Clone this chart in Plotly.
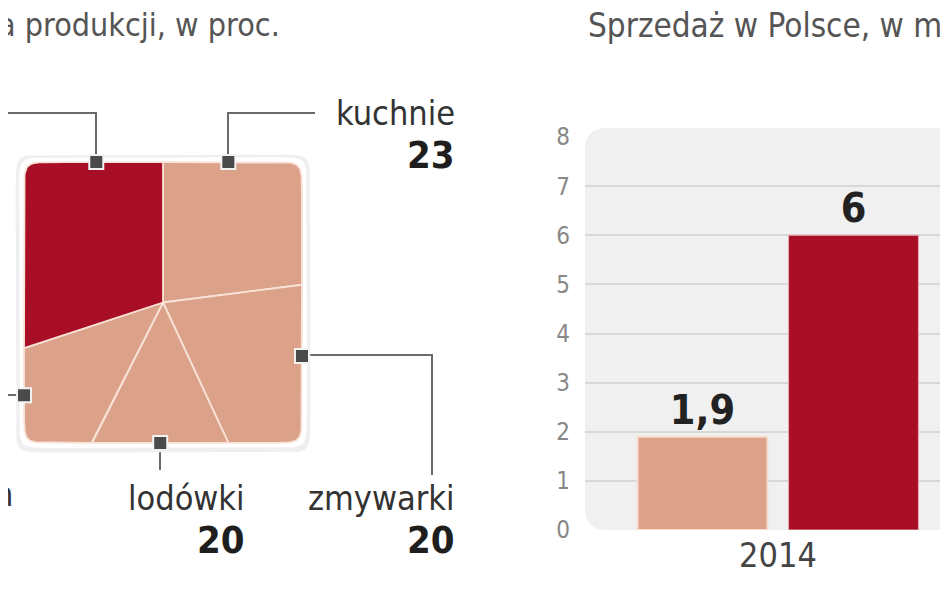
import numpy as np
import plotly.graph_objects as go

W, H = 948, 593

# --- dane ---------------------------------------------------------------
# struktura produkcji, w proc. (udzialy wycinkow tak jak sa narysowane,
# zaczynajac od godziny 12 i idac zgodnie z ruchem wskazowek zegara)
slice_names = ["kuchnie", "zmywarki", "lodowki", "wycinek 4", "wycinek 5"]
slice_shares = [23, 20, 14.5, 12.5, 30]
slice_colors = ["#dba189", "#dba189", "#dba189", "#dba189", "#a80f27"]

label_names = ["kuchnie", "lodówki", "zmywarki"]
label_values = [23, 20, 20]

# sprzedaz w Polsce
years = ["2014"]
sales_light = [1.9]
sales_dark = [6]
y_ticks = [0, 1, 2, 3, 4, 5, 6, 7, 8]

FONT = "DejaVu Sans Condensed, Liberation Sans Narrow, sans-serif"

# strona ma domyslny margines 8 px, wiec wszystko przesuwam o tyle
OX, OY = 8, 8


def px(x):
    return (x - OX) / W


def py(y):
    return 1 - (y - OY) / H


def rim(theta_deg, scale=1.0, n=24):
    # brzeg zaokraglonego kwadratu (superelipsa)
    t = np.radians(theta_deg)
    c, s = np.cos(t), np.sin(t)
    r = scale * (np.abs(c) ** n + np.abs(s) ** n) ** (-1.0 / n)
    return r * c, r * s


fig = go.Figure()

# cien i biala ramka kwadratu
full = np.linspace(0, 360, 721)
for sc, col in [(1.06, "#efefef"), (1.035, "#ffffff")]:
    xs, ys = rim(full, sc)
    fig.add_trace(go.Scatter(x=xs, y=ys - (0.008 if sc > 1.05 else 0), xaxis="x2", yaxis="y2",
                             mode="lines", fill="toself", fillcolor=col, line=dict(width=0),
                             hoverinfo="skip", showlegend=False))

# wycinki kolowe przyciete do kwadratu
start = 90.0
for name, share, col in zip(slice_names, slice_shares, slice_colors):
    end = start - share * 3.6
    th = np.linspace(start, end, 200)
    xs, ys = rim(th)
    xs = np.concatenate([[0], xs, [0]])
    ys = np.concatenate([[0], ys, [0]])
    fig.add_trace(go.Scatter(x=xs, y=ys, xaxis="x2", yaxis="y2", mode="lines",
                             fill="toself", fillcolor=col, name=name,
                             line=dict(color="#f8e2d6", width=1.8),
                             hoverinfo="skip", showlegend=False))
    start = end

# znaczniki odnosnikow na brzegu kwadratu
anchor_x = [-0.48, 0.47, 1.0, -0.02, -1.0]
anchor_y = [1.0, 1.0, -0.38, -1.0, -0.66]
fig.add_trace(go.Scatter(x=anchor_x, y=anchor_y, xaxis="x2", yaxis="y2", mode="markers",
                         marker=dict(symbol="square", size=14, color="#4a4a4a",
                                     line=dict(color="#f2f2f2", width=2)),
                         hoverinfo="skip", showlegend=False, cliponaxis=False))

# slupki
bar_font = dict(family=FONT, size=41, color="#222222", weight="bold")
fig.add_trace(go.Bar(x=years, y=sales_light, marker=dict(color="#dba189",
                     line=dict(color="#f6ddd0", width=2)),
                     text=[f"{v:g}".replace(".", ",") for v in sales_light],
                     textposition="outside", cliponaxis=False, showlegend=False,
                     textfont=bar_font))
fig.add_trace(go.Bar(x=years, y=sales_dark, marker=dict(color="#a80f27",
                     line=dict(color="#e9a9ad", width=1)),
                     text=[f"{v:g}".replace(".", ",") for v in sales_dark],
                     textposition="outside", cliponaxis=False, showlegend=False,
                     textfont=bar_font))

# tlo wykresu slupkowego
x0, x1, yt, yb, r = px(585), 1.0, py(128), py(530), 22
rx, ry = r / W, r / H
panel = (f"M {x0+rx},{yt} L {x1},{yt} L {x1},{yb} L {x0+rx},{yb} "
         f"Q {x0},{yb} {x0},{yb+ry} L {x0},{yt-ry} Q {x0},{yt} {x0+rx},{yt} Z")

shapes = [dict(type="path", path=panel, xref="paper", yref="paper",
               fillcolor="#f0f0f0", line=dict(width=0), layer="below")]

# linie odnosnikow
leaders = [
    [(96, 163), (96, 113), (8, 113)],
    [(228, 163), (228, 113), (315, 113)],
    [(302, 355), (432, 355), (432, 475)],
    [(160, 443), (160, 470)],
    [(22, 395), (0, 395)],
]
for pts in leaders:
    path = "M " + " L ".join(f"{px(a)},{py(b)}" for a, b in pts)
    shapes.append(dict(type="path", path=path, xref="paper", yref="paper",
                       line=dict(color="#6a6a6a", width=2), layer="below"))

annotations = []


def note(text, x, y, size, color, weight="normal", anchor="right"):
    annotations.append(dict(text=text, x=px(x), y=py(y), xref="paper", yref="paper",
                            xanchor=anchor, yanchor="middle", showarrow=False,
                            font=dict(family=FONT, size=size, color=color, weight=weight)))


label_pos = [(457, 113), (247, 498), (457, 498)]
for name, val, (lx, ly) in zip(label_names, label_values, label_pos):
    note(name, lx, ly, 34, "#333333")
    note(str(val), lx, ly + 42, 38, "#1e1e1e", weight="bold")

note("h", 15, 494, 34, "#333333")
note("a produkcji, w proc.", -4, 25, 32, "#555555", anchor="left")
note("Sprzedaż w Polsce, w m", 586, 25, 33, "#555555", anchor="left")

fig.update_layout(
    template="none",
    width=W, height=H,
    margin=dict(l=0, r=0, t=0, b=0, pad=0, autoexpand=False),
    paper_bgcolor="white", plot_bgcolor="rgba(0,0,0,0)",
    showlegend=False,
    barmode="group", bargap=0.245, bargroupgap=0.14,
    shapes=shapes, annotations=annotations,
    xaxis=dict(domain=[px(585), 1], range=[-0.4825, 0.425 + OX / 400], type="category",
               showgrid=False, zeroline=False, showline=False, ticks="", automargin=False,
               tickfont=dict(family=FONT, size=34, color="#444444"), ticklabelstandoff=2),
    yaxis=dict(domain=[py(530), py(137)], range=[0, 8], tickvals=y_ticks, automargin=False,
               showgrid=False, zeroline=False, showline=False, ticks="",
               tickfont=dict(family=FONT, size=24, color="#888888"), ticklabelstandoff=14,
               minor=dict(tickvals=[1, 2, 3, 4, 5, 6, 7], showgrid=True,
                          gridcolor="#d8d8d8", gridwidth=2)),
    xaxis2=dict(domain=[px(12.9), px(313.1)], range=[-1.08, 1.08], visible=False,
                anchor="y2", automargin=False),
    yaxis2=dict(domain=[py(454.2), py(150.8)], range=[-1.08, 1.08], visible=False,
                anchor="x2", automargin=False),
)

fig.write_html("out.html")
